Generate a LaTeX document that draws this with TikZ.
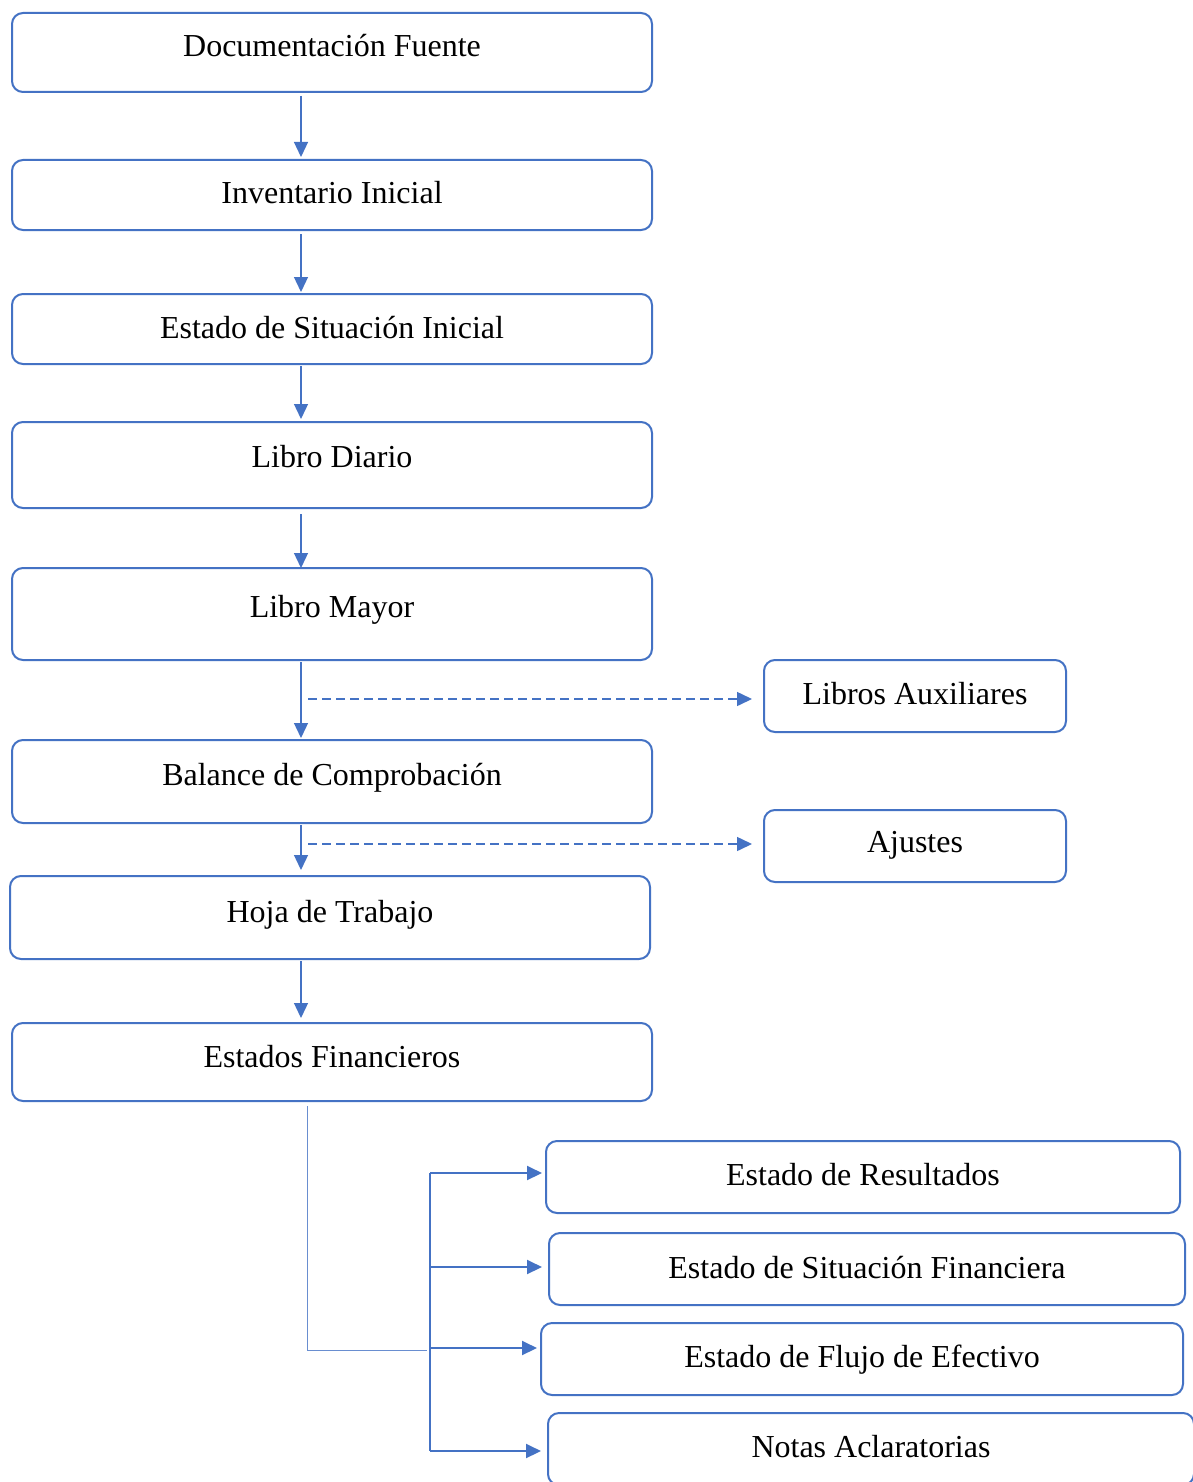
\documentclass[tikz,border=0pt]{standalone}
\usepackage{fontspec}
\setmainfont{Liberation Serif}
\usetikzlibrary{arrows.meta,calc}
\definecolor{officeblue}{HTML}{4472C4}
\begin{document}
\begin{tikzpicture}[x=1pt,y=-1pt,
  box/.style={draw=officeblue, line width=2pt, rounded corners=11pt, fill=white,
    inner sep=0pt, font=\fontsize{32}{38}\selectfont, text=black},
  arr/.style={draw=officeblue, line width=1.3pt, -{Triangle[length=15pt,width=14pt]}},
  dasharr/.style={draw=officeblue, line width=1.5pt, dash pattern=on 9pt off 5pt, -{Triangle[length=15pt,width=14pt]}},
  thinline/.style={draw=officeblue!80, line width=1pt},
  brline/.style={draw=officeblue, line width=2pt},
  brarr/.style={draw=officeblue, line width=2pt, -{Triangle[length=15pt,width=14pt]}}
]
\useasboundingbox (0,0) rectangle (1192,1482);
\fill[white] (0,0) rectangle (1192,1482);

% main column
\node[box, minimum width=640pt, minimum height=79pt, text height=44pt, text depth=35pt] (doc) at (332,52.5) {Documentación Fuente};
\node[box, minimum width=640pt, minimum height=70pt, text height=44pt, text depth=26pt] (inv) at (332,195) {Inventario Inicial};
\node[box, minimum width=640pt, minimum height=70pt, text height=44pt, text depth=26pt] (esi) at (332,329) {Estado de Situación Inicial};
\node[box, minimum width=640pt, minimum height=86pt, text height=45pt, text depth=41pt] (diario) at (332,465) {Libro Diario};
\node[box, minimum width=640pt, minimum height=92pt, text height=49pt, text depth=43pt] (mayor) at (332,614) {Libro Mayor};
\node[box, minimum width=640pt, minimum height=83pt, text height=45pt, text depth=38pt] (balance) at (332,781.5) {Balance de Comprobación};
\node[box, minimum width=640pt, minimum height=83pt, text height=46pt, text depth=37pt] (hoja) at (330,917.5) {Hoja de Trabajo};
\node[box, minimum width=640pt, minimum height=78pt, text height=44pt, text depth=34pt] (ef) at (332,1062) {Estados Financieros};

% side boxes
\node[box, minimum width=302pt, minimum height=72pt, text height=44pt, text depth=28pt] (aux) at (915,696) {Libros Auxiliares};
\node[box, minimum width=302pt, minimum height=72pt, text height=42pt, text depth=30pt] (ajustes) at (915,846) {Ajustes};

% financial statements
\node[box, minimum width=634pt, minimum height=72pt, text height=44pt, text depth=28pt] (res) at (863,1177) {Estado de Resultados};
\node[box, minimum width=636pt, minimum height=72pt, text height=45pt, text depth=27pt] (sitfin) at (867,1269) {Estado de Situación Financiera};
\node[box, minimum width=642pt, minimum height=72pt, text height=44pt, text depth=28pt] (flujo) at (862,1359) {Estado de Flujo de Efectivo};
\node[box, minimum width=646pt, minimum height=72pt, text height=44pt, text depth=28pt] (notas) at (871,1449) {Notas Aclaratorias};

% spine coordinates
\coordinate (spine) at (301,0);
\coordinate (dstart) at (308,0);
\coordinate (efline) at (307,0);
\coordinate (branch) at (430,0);
\coordinate (corner) at (427,1350);

% vertical arrows
\draw[arr, shorten <=3pt, shorten >=2pt] (doc.south -| spine) -- (inv.north -| spine);
\draw[arr, shorten <=3pt, shorten >=1pt] (inv.south -| spine) -- (esi.north -| spine);
\draw[arr, shorten <=1pt, shorten >=2pt] (esi.south -| spine) -- (diario.north -| spine);
\draw[arr, shorten <=5pt, shorten >=-1pt] (diario.south -| spine) -- (mayor.north -| spine);
\draw[arr, shorten <=1pt, shorten >=1pt] (mayor.south -| spine) -- (balance.north -| spine);
\draw[arr, shorten <=1pt, shorten >=5pt] (balance.south -| spine) -- (hoja.north -| spine);
\draw[arr, shorten <=1pt, shorten >=4pt] (hoja.south -| spine) -- (ef.north -| spine);

% dashed arrows
\draw[dasharr, shorten >=11pt] ($(aux.west -| dstart)+(0,3)$) -- ($(aux.west)+(0,3)$);
\draw[dasharr, shorten >=11pt] ($(ajustes.west -| dstart)+(0,-2)$) -- ($(ajustes.west)+(0,-2)$);

% bracket from Estados Financieros
\draw[thinline] ($(ef.south -| efline)+(0,4)$) -- (efline |- corner) -- (corner);
\draw[brline] ($(res.west -| branch)+(0,-4)$) -- ($(notas.west -| branch)+(0,2)$);
\draw[brarr, shorten >=3pt] ($(res.west -| branch)+(0,-4)$) -- ($(res.west)+(0,-4)$);
\draw[brarr, shorten >=6pt] ($(sitfin.west -| branch)+(0,-2)$) -- ($(sitfin.west)+(0,-2)$);
\draw[brarr, shorten >=3pt] ($(flujo.west -| branch)+(0,-11)$) -- ($(flujo.west)+(0,-11)$);
\draw[brarr, shorten >=6pt] ($(notas.west -| branch)+(0,2)$) -- ($(notas.west)+(0,2)$);
\end{tikzpicture}
\end{document}
